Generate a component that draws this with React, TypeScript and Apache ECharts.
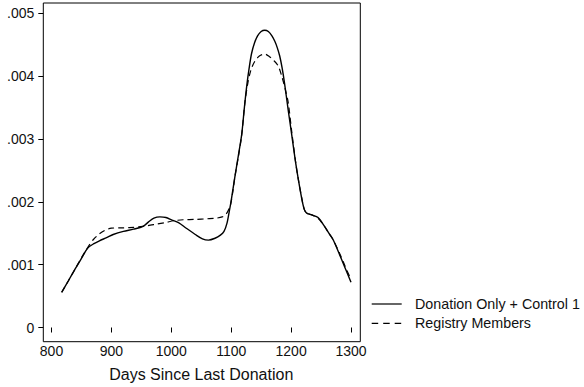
import React, { useEffect, useRef } from "react";
import * as echarts from "echarts";

const xTicks = [800, 900, 1000, 1100, 1200, 1300];
const yTicks = [0, 0.001, 0.002, 0.003, 0.004, 0.005];
const yTickLabels = ["0", ".001", ".002", ".003", ".004", ".005"];

const donationDays = [
  817, 828, 840, 850, 856, 861, 870, 880, 892, 903, 920, 937, 953, 962, 971, 981, 991, 1001, 1012,
  1025, 1040, 1052, 1062, 1073, 1082, 1088, 1093, 1097, 1100, 1106, 1112, 1117.5, 1122, 1126, 1130,
  1134, 1139, 1144, 1150, 1156, 1162, 1168, 1173, 1177, 1181, 1185, 1189, 1195, 1201, 1207, 1212,
  1218, 1222, 1226, 1235, 1245, 1255, 1263, 1270, 1280, 1290, 1300,
];
const donationDensity = [
  0.00056, 0.00074, 0.00094, 0.0011, 0.0012, 0.00127, 0.00133, 0.00138, 0.00143, 0.00148, 0.00153,
  0.001565, 0.00161, 0.00168, 0.00174, 0.00176, 0.00175, 0.00171, 0.00167, 0.00158, 0.00148, 0.00141,
  0.00139, 0.00142, 0.00147, 0.00153, 0.00166, 0.00186, 0.00202, 0.00239, 0.00274, 0.00307, 0.0035,
  0.00385, 0.00413, 0.00436, 0.00453, 0.00464, 0.00471, 0.00473, 0.00471, 0.00464, 0.00455, 0.00445,
  0.00432, 0.00413, 0.00389, 0.00347, 0.00307, 0.00266, 0.00236, 0.00204, 0.00188, 0.00182, 0.00179,
  0.00175, 0.00162, 0.0015, 0.0014, 0.00118, 0.00095, 0.00072,
];

const registryDays = [
  817, 828, 840, 850, 857, 863, 870, 880, 890, 900, 915, 930, 945, 960, 975, 990, 1005, 1020, 1040,
  1060, 1075, 1085, 1091, 1095, 1099, 1103, 1106, 1112, 1117.5, 1123, 1128, 1133, 1139, 1147, 1156,
  1164, 1171, 1178.6, 1185, 1190, 1195, 1201, 1207, 1212, 1218, 1222, 1226, 1235, 1245, 1255, 1263,
  1270, 1280, 1290, 1300,
];
const registryDensity = [
  0.00056, 0.00074, 0.00094, 0.00111, 0.00122, 0.00131, 0.0014, 0.00149, 0.00155, 0.00158, 0.001585,
  0.00159, 0.0016, 0.00162, 0.001645, 0.00167, 0.0017, 0.001715, 0.00172, 0.00173, 0.00174, 0.00176,
  0.0018, 0.00186, 0.00196, 0.00218, 0.00239, 0.00272, 0.00306, 0.00359, 0.0039, 0.0041, 0.00423,
  0.00432, 0.00435, 0.00431, 0.00425, 0.00416, 0.00398, 0.0038, 0.00359, 0.00312, 0.00267, 0.00236,
  0.00205, 0.00188, 0.00182, 0.00179, 0.00174, 0.00162, 0.0015, 0.0014, 0.0012, 0.00098, 0.00076,
];

const seriesNames = ["Donation Only + Control 1", "Registry Members"];
const xTitle = "Days Since Last Donation";

const FONT = "Liberation Sans, Arial, Helvetica, sans-serif";

export default function App() {
  const ref = useRef<HTMLDivElement>(null);
  useEffect(() => {
    if (!ref.current) return;
    const chart = echarts.init(ref.current, null, { renderer: "svg" });
    const solid = donationDays.map((d, i) => [d, donationDensity[i]]);
    const dashed = registryDays.map((d, i) => [d, registryDensity[i]]);
    chart.setOption({
      animation: false,
      backgroundColor: "#fff",
      grid: {
        left: 51.5,
        right: 233,
        top: 13.3,
        bottom: 54.3,
        show: false,
      },
      xAxis: {
        type: "value",
        min: xTicks[0],
        max: xTicks[xTicks.length - 1],
        interval: 100,
        offset: 9,
        name: xTitle,
        nameLocation: "middle",
        nameGap: 29.5,
        nameTextStyle: { fontFamily: FONT, fontSize: 16, color: "#111" },
        axisLine: { show: false },
        axisTick: { show: true, inside: false, length: 5, lineStyle: { color: "#000", width: 1 } },
        axisLabel: {
          show: true,
          margin: 7.5,
          fontFamily: FONT,
          fontSize: 14,
          color: "#111",
          formatter: (v: number) => String(v),
        },
        splitLine: { show: false },
      },
      yAxis: {
        type: "value",
        min: yTicks[0],
        max: yTicks[yTicks.length - 1],
        interval: 0.001,
        offset: 8.2,
        axisLine: { show: false },
        axisTick: { show: true, inside: false, length: 5, lineStyle: { color: "#000", width: 1 } },
        axisLabel: {
          show: true,
          margin: 9,
          fontFamily: FONT,
          fontSize: 14,
          color: "#111",
          formatter: (v: number) => {
            const i = yTicks.findIndex((t) => Math.abs(t - v) < 1e-9);
            return i >= 0 ? yTickLabels[i] : "";
          },
        },
        splitLine: { show: false },
      },
      series: [
        {
          name: seriesNames[0],
          type: "line",
          data: solid,
          smooth: 0.3,
          symbol: "none",
          clip: false,
          lineStyle: { color: "#000", width: 1.4 },
        },
        {
          name: seriesNames[1],
          type: "line",
          data: dashed,
          smooth: 0.3,
          symbol: "none",
          clip: false,
          lineStyle: { color: "#000", width: 1.2, type: [6, 4] },
        },
      ],
      graphic: [
        {
          type: "rect",
          shape: { x: 43.3, y: 3, width: 317, height: 338.7 },
          style: { fill: "none", stroke: "#000", lineWidth: 1 },
          z: 10,
        },
        {
          type: "line",
          shape: { x1: 371.7, y1: 304, x2: 401.7, y2: 304 },
          style: { stroke: "#000", lineWidth: 1.2 },
        },
        {
          type: "text",
          x: 415,
          y: 304,
          style: { text: seriesNames[0], font: `14.3px ${FONT}`, fill: "#111", verticalAlign: "middle" },
        },
        {
          type: "line",
          shape: { x1: 371.7, y1: 323.3, x2: 401.7, y2: 323.3 },
          style: { stroke: "#000", lineWidth: 1.2, lineDash: [6.5, 5] },
        },
        {
          type: "text",
          x: 415,
          y: 323.3,
          style: { text: seriesNames[1], font: `14.3px ${FONT}`, fill: "#111", verticalAlign: "middle" },
        },
      ],
    });
    return () => chart.dispose();
  }, []);
  return <div ref={ref} style={{ position: "fixed", left: 0, top: 0, width: 584, height: 387 }} />;
}
